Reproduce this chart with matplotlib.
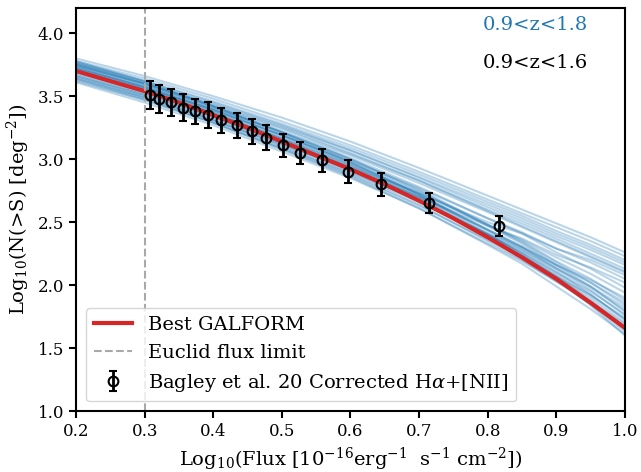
import numpy as np
import matplotlib
matplotlib.use("Agg")
import matplotlib.pyplot as plt

plt.rcParams["font.family"] = "DejaVu Serif"
plt.rcParams["mathtext.fontset"] = "dejavuserif"
plt.rcParams["font.size"] = 14

# flux grid (log10) shared by the model curves
x_nodes = [0.2, 0.3, 0.4, 0.5, 0.6, 0.7, 0.8, 0.85, 0.9, 0.95, 1.0]

# best GALFORM model, finer grid
x_best = [0.20, 0.25, 0.30, 0.35, 0.40, 0.45, 0.50, 0.55, 0.60,
          0.65, 0.70, 0.75, 0.80, 0.85, 0.90, 0.95, 1.00]
y_best = [3.70, 3.62, 3.54, 3.45, 3.35, 3.25, 3.14, 3.03, 2.92,
          2.80, 2.67, 2.53, 2.38, 2.22, 2.05, 1.86, 1.66]

# model variants (0.9<z<1.8)
variants = [
    [3.80, 3.66, 3.50, 3.33, 3.14, 2.93, 2.71, 2.60, 2.49, 2.38, 2.26],
    [3.78, 3.64, 3.48, 3.30, 3.11, 2.90, 2.68, 2.57, 2.46, 2.35, 2.23],
    [3.76, 3.62, 3.46, 3.28, 3.09, 2.88, 2.66, 2.55, 2.43, 2.32, 2.20],
    [3.74, 3.60, 3.44, 3.26, 3.07, 2.86, 2.64, 2.53, 2.41, 2.30, 2.18],
    [3.77, 3.62, 3.45, 3.27, 3.07, 2.85, 2.62, 2.51, 2.39, 2.28, 2.16],
    [3.72, 3.58, 3.42, 3.24, 3.04, 2.83, 2.60, 2.49, 2.37, 2.25, 2.13],
    [3.75, 3.60, 3.43, 3.25, 3.05, 2.83, 2.59, 2.47, 2.35, 2.23, 2.11],
    [3.70, 3.56, 3.40, 3.22, 3.03, 2.81, 2.58, 2.46, 2.34, 2.22, 2.10],
    [3.66, 3.51, 3.33, 3.14, 2.94, 2.73, 2.50, 2.41, 2.29, 2.20, 2.08],
    [3.72, 3.57, 3.39, 3.19, 2.99, 2.77, 2.53, 2.42, 2.29, 2.18, 2.05],
    [3.64, 3.49, 3.31, 3.12, 2.92, 2.70, 2.47, 2.37, 2.24, 2.14, 2.02],
    [3.75, 3.60, 3.41, 3.21, 3.01, 2.78, 2.53, 2.41, 2.26, 2.13, 1.98],
    [3.70, 3.55, 3.36, 3.17, 2.96, 2.73, 2.48, 2.36, 2.22, 2.09, 1.94],
    [3.62, 3.47, 3.29, 3.09, 2.89, 2.66, 2.41, 2.30, 2.16, 2.04, 1.90],
    [3.73, 3.57, 3.39, 3.19, 2.98, 2.74, 2.48, 2.35, 2.19, 2.05, 1.88],
    [3.68, 3.52, 3.34, 3.14, 2.93, 2.70, 2.44, 2.31, 2.16, 2.02, 1.86],
    [3.76, 3.60, 3.42, 3.21, 3.00, 2.76, 2.48, 2.34, 2.18, 2.02, 1.84],
    [3.65, 3.49, 3.31, 3.11, 2.90, 2.67, 2.40, 2.28, 2.13, 1.99, 1.82],
    [3.71, 3.55, 3.37, 3.16, 2.95, 2.71, 2.44, 2.30, 2.14, 1.98, 1.80],
    [3.77, 3.61, 3.42, 3.22, 3.00, 2.75, 2.47, 2.33, 2.16, 1.99, 1.79],
    [3.67, 3.51, 3.33, 3.12, 2.91, 2.67, 2.40, 2.26, 2.10, 1.95, 1.77],
    [3.74, 3.58, 3.39, 3.19, 2.97, 2.72, 2.44, 2.30, 2.13, 1.96, 1.76],
    [3.63, 3.47, 3.29, 3.08, 2.87, 2.63, 2.36, 2.23, 2.07, 1.92, 1.74],
    [3.70, 3.54, 3.35, 3.15, 2.93, 2.69, 2.40, 2.26, 2.09, 1.92, 1.73],
    [3.75, 3.59, 3.40, 3.19, 2.97, 2.72, 2.43, 2.28, 2.11, 1.93, 1.72],
    [3.69, 3.53, 3.34, 3.13, 2.92, 2.67, 2.39, 2.24, 2.07, 1.90, 1.70],
    [3.61, 3.45, 3.27, 3.06, 2.85, 2.61, 2.33, 2.19, 2.03, 1.87, 1.69],
    [3.73, 3.57, 3.38, 3.17, 2.95, 2.70, 2.40, 2.25, 2.07, 1.88, 1.67],
    [3.66, 3.50, 3.31, 3.10, 2.88, 2.64, 2.35, 2.20, 2.03, 1.85, 1.65],
    [3.72, 3.56, 3.37, 3.16, 2.93, 2.68, 2.38, 2.22, 2.04, 1.85, 1.63],
    [3.64, 3.48, 3.29, 3.08, 2.86, 2.61, 2.32, 2.17, 1.99, 1.81, 1.61],
    [3.78, 3.62, 3.42, 3.21, 2.98, 2.72, 2.41, 2.24, 2.05, 1.84, 1.60],
]

# Bagley et al. 2020 corrected Halpha+[NII] counts
x_obs = [0.308, 0.321, 0.338, 0.356, 0.373, 0.393, 0.412, 0.434, 0.456,
         0.477, 0.501, 0.526, 0.559, 0.597, 0.644, 0.714, 0.816]
y_obs = [3.51, 3.48, 3.45, 3.41, 3.38, 3.35, 3.31, 3.27, 3.22,
         3.17, 3.11, 3.05, 2.99, 2.90, 2.80, 2.65, 2.47]
err_obs = [0.11, 0.11, 0.11, 0.11, 0.10, 0.10, 0.10, 0.10, 0.10,
           0.10, 0.09, 0.09, 0.09, 0.09, 0.09, 0.08, 0.08]

euclid_limit = 0.3

fig = plt.figure(figsize=(6.41, 4.72), dpi=100)
ax = fig.add_axes([0.1186, 0.129, 0.8564, 0.854])

for yv in variants:
    ax.plot(x_nodes, yv, color="tab:blue", alpha=0.3, lw=1.5)

ax.plot(x_best, y_best, color="tab:red", lw=3, label="Best GALFORM")
ax.axvline(euclid_limit, color="darkgrey", ls="--", lw=1.5,
           label="Euclid flux limit")
ax.errorbar(x_obs, y_obs, yerr=err_obs, fmt="o", color="k", mfc="none",
            ms=7, mew=1.5, elinewidth=2, capsize=3, capthick=2,
            label=r"Bagley et al. 20 Corrected H$\alpha$+[NII]")

ax.text(0.933, 0.958, "0.9<z<1.8", color="tab:blue", ha="right",
        va="center", transform=ax.transAxes)
ax.text(0.933, 0.864, "0.9<z<1.6", color="k", ha="right",
        va="center", transform=ax.transAxes)

ax.set_xlim(0.2, 1.0)
ax.set_ylim(1.0, 4.2)
ax.set_xticks(np.arange(0.2, 1.01, 0.1))
ax.set_yticks(np.arange(1.0, 4.01, 0.5))
ax.set_xlabel(r"Log$_{10}$(Flux [10$^{-16}$erg$^{-1}$  s$^{-1}$ cm$^{-2}$])")
ax.set_ylabel(r"Log$_{10}$(N(>S) [deg$^{-2}$])")
for sp in ax.spines.values():
    sp.set_linewidth(1.5)
ax.tick_params(width=1.5, length=5, labelsize=12)

ax.legend(loc="lower left")

fig.savefig("out.png", dpi=100)
